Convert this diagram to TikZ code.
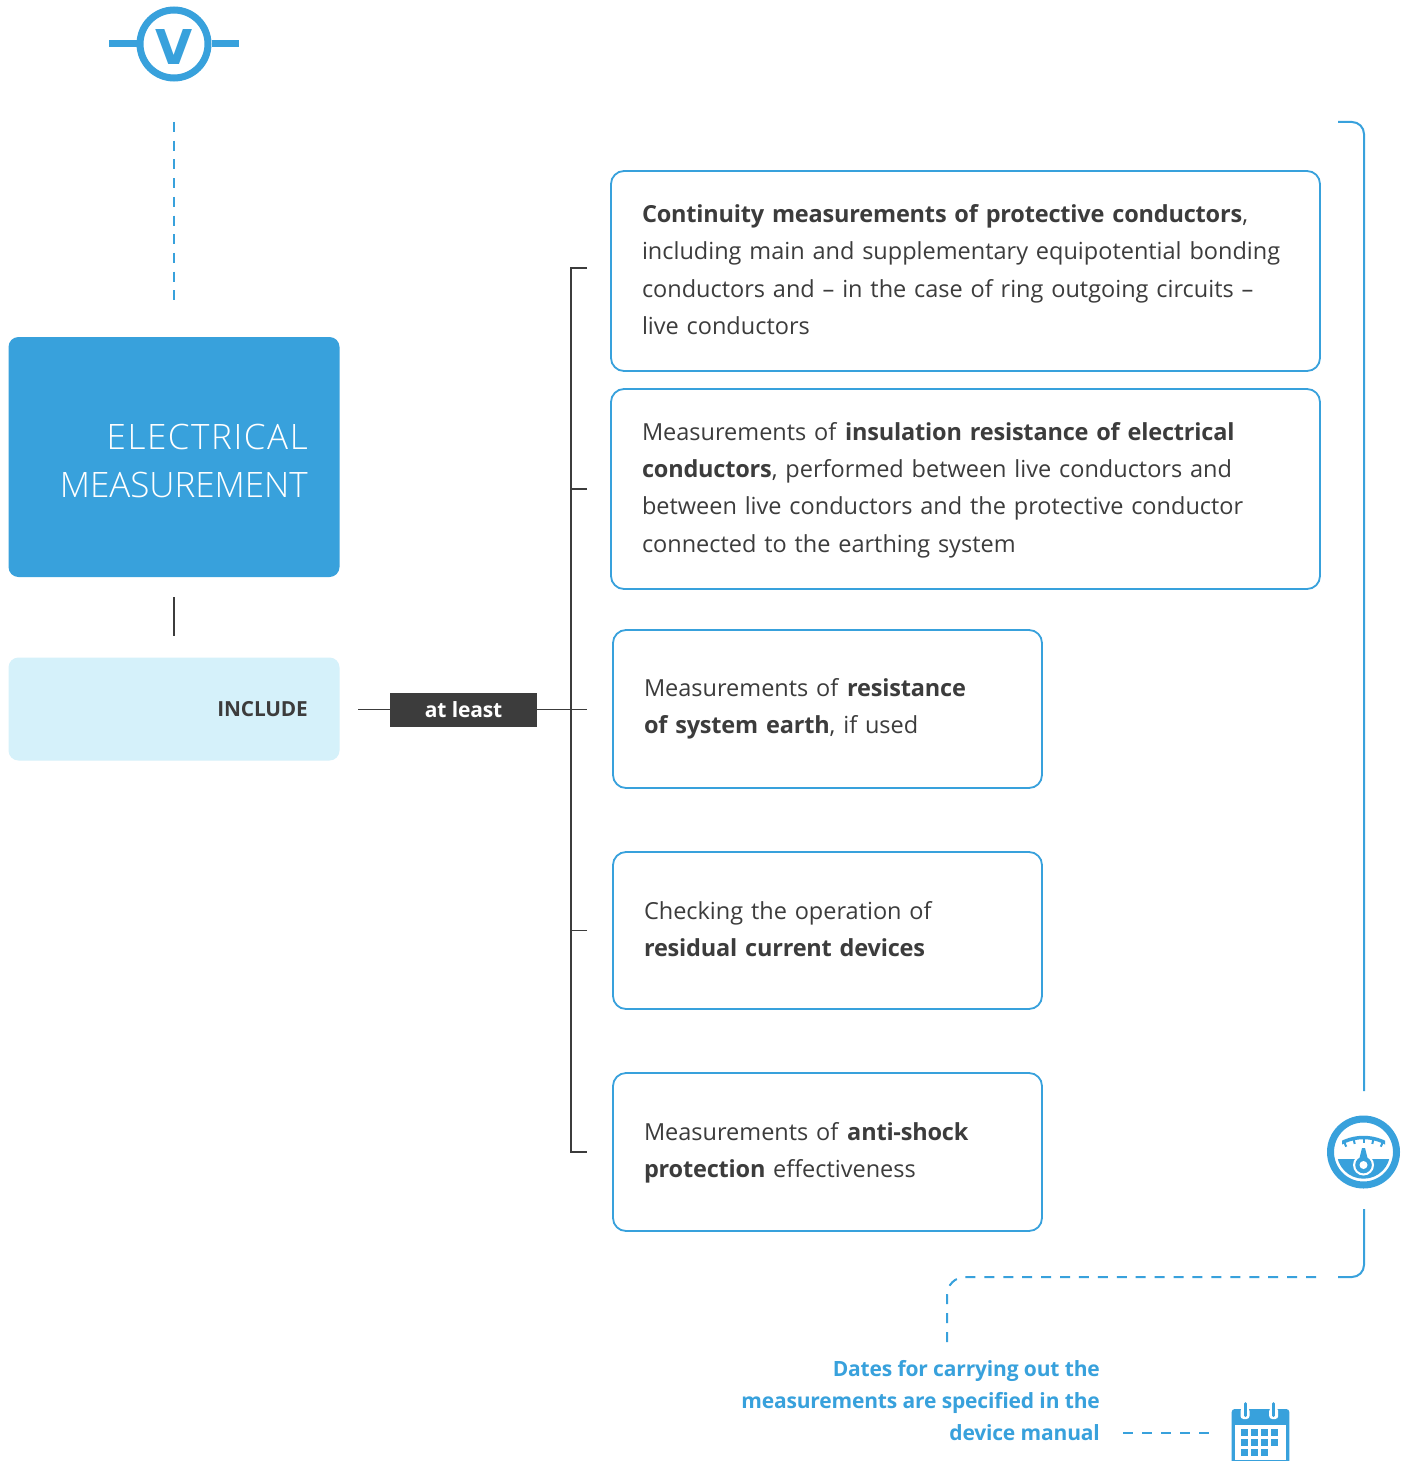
\documentclass[tikz,border=0pt]{standalone}
\usepackage{fontspec}
\usetikzlibrary{calc}
\setmainfont[BoldFeatures={LetterSpace=-0.8}]{Open Sans}
\newfontfamily\lightf{Open Sans Light}
\newfontfamily\boldv{DejaVu Sans Bold}
\definecolor{blu}{HTML}{38A1DC}
\definecolor{pale}{HTML}{D5F1FA}
\definecolor{ink}{HTML}{3C3C3C}
\tikzset{
 itembox/.style={draw=blu,line width=1.8pt,rounded corners=13pt,align=left,text=ink,inner xsep=31pt,inner ysep=0pt,font=\fontsize{23.5}{37.3}\selectfont},
 wire/.style={draw=ink,line width=1.1pt},
 bluewire/.style={draw=blu,line width=2pt,rounded corners=12pt},
 bluedash/.style={draw=blu,line width=2pt,dash pattern=on 10pt off 8.7pt},
}
\begin{document}
\begin{tikzpicture}[x=1pt,y=-1pt]
\path[use as bounding box,fill=white] (0,0) rectangle (1410,1461);
% voltmeter
\node[circle,draw=blu,line width=7pt,minimum size=68pt,inner sep=0pt] (volt) at (174,44) {};
\node[text=blu,font=\fontsize{48}{48}\boldv\selectfont,inner sep=0pt] (vlet) at (174.5,47) {V};
\coordinate (vl) at (109,44); \coordinate (vr) at (239,44);
\draw[blu,line width=7pt] (vl) -- (volt.west) (volt.east) -- (vr);
\coordinate (dashtop) at (174,122); \coordinate (dashbot) at (174,300);
\draw[bluedash] (dashtop) -- (dashbot);
% left boxes
\node[fill=blu,rounded corners=10pt,minimum width=331pt,minimum height=240pt,inner sep=0pt] (main) at (174,457) {};
\node[anchor=east,align=right,text=white,inner sep=0pt,font=\fontsize{35}{48}\lightf\selectfont] (maint) at (308,461) {\addfontfeature{LetterSpace=4.5}ELECTRICAL\\MEASUREMENT};
\node[fill=pale,rounded corners=10pt,minimum width=331pt,minimum height=103pt,inner sep=0pt] (incl) at (174,709) {};
\node[anchor=east,text=ink,inner sep=0pt,font=\fontsize{20.8}{24}\bfseries\selectfont] (inclt) at (308,709) {INCLUDE};
\coordinate (mb) at (174,597); \coordinate (ib) at (174,636);
\draw[wire] (mb) -- (ib);
\node[fill=ink,text=white,minimum width=147pt,minimum height=34pt,inner sep=0pt,font=\fontsize{21}{24}\bfseries\selectfont] (least) at (463.5,710) {\raisebox{0.8pt}{at least}};
\coordinate (il) at (358,709.5);
\draw[wire] (il) -- (il -| least.west);
% bracket
\coordinate (t1) at (587,268); \coordinate (c1) at (571,268);
\coordinate (t2) at (587,489); \coordinate (c2) at (571,489);
\coordinate (t3) at (587,709.5); \coordinate (c3) at (571,709.5);
\coordinate (t4) at (587,930.5); \coordinate (c4) at (571,930.5);
\coordinate (t5) at (587,1152); \coordinate (c5) at (571,1152);
\draw[wire] (t1) -- (c1) -- (c5) -- (t5) (t2) -- (c2) (t4) -- (c4) (t3 -| least.east) -- (t3);
% items
\node[itembox,text width=647pt,minimum height=200pt] (b1) at (965.5,271) {\textbf{Continuity measurements of protective conductors},\\including main and supplementary equipotential bonding\\conductors and – in the case of ring outgoing circuits –\\live conductors\par\vspace*{3pt}};
\node[itembox,text width=647pt,minimum height=200pt] (b2) at (965.5,489) {Measurements of \textbf{insulation resistance of electrical}\\\textbf{conductors}, performed between live conductors and\\between live conductors and the protective conductor\\connected to the earthing system\par\vspace*{-2pt}};
\node[itembox,text width=367pt,minimum height=158pt] (b3) at (827.5,709) {Measurements of \textbf{resistance}\\\textbf{of system earth}, if used};
\node[itembox,text width=367pt,minimum height=157pt] (b4) at (827.5,930.5) {Checking the operation of\\\textbf{residual current devices}\par\vspace*{3pt}};
\node[itembox,text width=367pt,minimum height=158pt] (b5) at (827.5,1152) {Measurements of \textbf{anti-shock}\\\textbf{protection} effectiveness\par\vspace*{-1pt}};
% gauge
\node[circle,draw=blu,line width=7pt,minimum size=66pt,inner sep=0pt] (gauge) at (1363.5,1152) {};
\begin{scope}
\clip (1330,1159) rectangle (1397,1190);
\fill[blu] (1363.5,1152) circle (26.7);
\end{scope}
\begin{scope}
\clip (1342,1130) rectangle (1385,1146);
\draw[blu,line width=3.5pt] (1363.5,1185.5) circle (48);
\end{scope}
\foreach \a in {-114,-102,-90,-78,-66}{\draw[blu,line width=2pt] ($(1363.5,1185.5)+(\a:47)$) -- ($(1363.5,1185.5)+(\a:42.5)$);}
\draw[white,line width=4pt,fill=white,line join=round] (1362.5,1150) -- (1364.5,1150) -- (1369,1162) -- (1358,1162) -- cycle;
\fill[white] (1363.5,1165) circle (10.5);
\fill[blu] (1362,1148) -- (1365,1148) -- (1368.5,1162) -- (1358.5,1162) -- cycle;
\fill[blu] (1363.5,1165) circle (8.3);
\fill[white] (1363.5,1165) circle (4);
% right bracket
\coordinate (r0) at (1338,122); \coordinate (r1) at (1364,1091); \coordinate (r2) at (1364,1209);
\coordinate (r3) at (1338,1277); \coordinate (d0) at (1316,1277); \coordinate (d1) at (947,1342);
\draw[bluewire] (r0) -- (1364,122) -- (r1);
\draw[bluewire] (r2) -- (1364,1277) -- (r3);
\draw[bluedash,dash pattern=on 10pt off 8.92pt,rounded corners=18pt] (d0) -- (947,1277) -- (d1);
% note
\node[anchor=east,align=right,text=blu,inner sep=0pt,font=\fontsize{21}{32}\bfseries\selectfont] (note) at (1100,1401) {Dates for carrying out the\\measurements are specified in the\\device manual};
\coordinate (n0) at (1123,1433); \coordinate (n1) at (1209,1433);
\draw[bluedash,dash pattern=on 10pt off 9pt] (n0) -- (n1);
% calendar
\begin{scope}
\clip (0,0) rectangle (1410,1461);
\fill[blu,rounded corners=3pt] (1231.7,1409) rectangle (1289.3,1470);
\fill[white] (1235,1424.5) rectangle (1286,1460);
\foreach \x in {1245,1273.7}{
 \fill[white,rounded corners=3pt] (\x-4.5,1408) rectangle (\x+4.5,1419);
 \draw[blu,line width=3pt,line cap=round] (\x,1403.5) -- (\x,1415.5);}
\foreach \x/\y in {0/0,1/0,2/0,3/0,0/1,1/1,2/1,3/1,0/2,1/2,2/2}{
 \fill[blu] (1241.3+10*\x,1429.3+10*\y) rectangle ++(6.2,6.2);}
\end{scope}
\end{tikzpicture}
\end{document}
